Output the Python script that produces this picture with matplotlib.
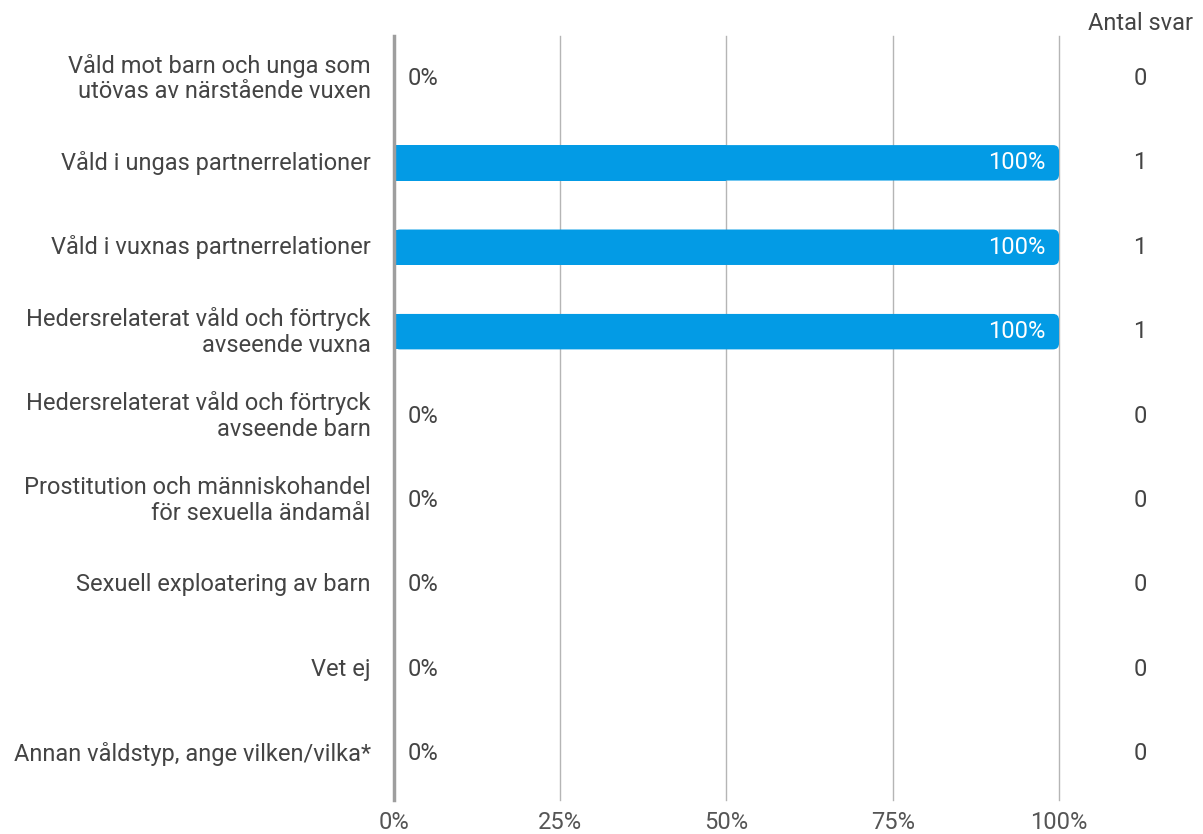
import matplotlib.pyplot as plt
from matplotlib.patches import FancyBboxPatch

plt.rcParams['font.family'] = ['Roboto', 'DejaVu Sans']

# data
categories = [
    "Våld mot barn och unga som\nutövas av närstående vuxen",
    "Våld i ungas partnerrelationer",
    "Våld i vuxnas partnerrelationer",
    "Hedersrelaterat våld och förtryck\navseende vuxna",
    "Hedersrelaterat våld och förtryck\navseende barn",
    "Prostitution och människohandel\nför sexuella ändamål",
    "Sexuell exploatering av barn",
    "Vet ej",
    "Annan våldstyp, ange vilken/vilka*",
]
shares = [0, 1, 1, 1, 0, 0, 0, 0, 0]
counts = [0, 1, 1, 1, 0, 0, 0, 0, 0]
xticks = [0, 0.25, 0.5, 0.75, 1.0]
xticklabels = ["0%", "25%", "50%", "75%", "100%"]

bar_color = "#039BE5"
text_color = "#444444"
fs = 17

fig = plt.figure(figsize=(12.03, 8.34), dpi=100)
ax = fig.add_axes([0.3275, 0.0456, 0.5528, 0.911])
ax.set_xlim(0, 1)
ax.set_ylim(len(categories) - 0.5, -0.5)

bh = 0.42
for i, v in enumerate(shares):
    if v > 0:
        # rounded right end
        p = FancyBboxPatch((0, i - bh / 2), v, bh,
                           boxstyle="round,pad=0,rounding_size=0.009",
                           mutation_aspect=7.9, facecolor=bar_color,
                           edgecolor="none", zorder=2)
        ax.add_patch(p)
        ax.barh(i, v / 2, height=bh, left=0, color=bar_color, zorder=2)
        ax.text(v - 0.02, i, f"{v:.0%}", ha="right", va="center",
                color="white", fontsize=fs, zorder=3)
    else:
        ax.text(0.02, i, f"{v:.0%}", ha="left", va="center",
                color=text_color, fontsize=fs, zorder=3)
    ax.text(-0.035, i, categories[i], ha="right", va="center",
            color=text_color, fontsize=fs, linespacing=1.15)
    ax.text(1.122, i, str(counts[i]), ha="center", va="center",
            color=text_color, fontsize=fs)

ax.text(1.122, -0.65, "Antal svar", ha="center", va="center",
        color=text_color, fontsize=fs)

for x in xticks[1:]:
    ax.axvline(x, ymin=-0.005, ymax=1.0, color="#b5b5b5", lw=1.0, zorder=1,
               clip_on=False)
ax.axvline(0, ymin=-0.005, color="#9e9e9e", lw=2.5, zorder=4, clip_on=False)

ax.set_xticks(xticks)
ax.set_xticklabels(xticklabels, fontsize=fs, color="#555555")
ax.tick_params(axis="x", length=0, pad=11)
ax.set_yticks([])
for s in ax.spines.values():
    s.set_visible(False)

fig.savefig("out.png", dpi=100)
